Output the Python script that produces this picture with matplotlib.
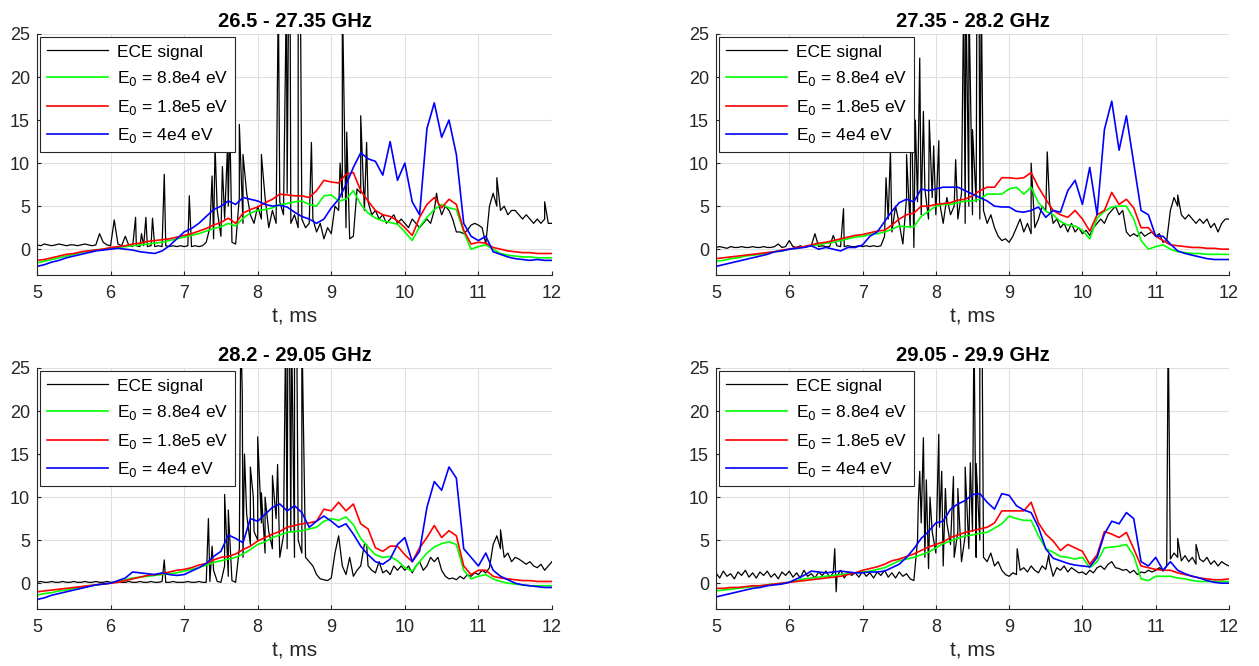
import numpy as np
import matplotlib.pyplot as plt

plt.rcParams['font.family'] = ['Liberation Sans', 'DejaVu Sans']

titles = ['26.5 - 27.35 GHz', '27.35 - 28.2 GHz', '28.2 - 29.05 GHz', '29.05 - 29.9 GHz']
labels = ['ECE signal', 'E$_0$ = 8.8e4 eV', 'E$_0$ = 1.8e5 eV', 'E$_0$ = 4e4 eV']

# time grids, ms
t_model = np.round(np.arange(5.0, 12.001, 0.1), 2)
t_ece = np.round(np.arange(5.0, 12.001, 0.05), 3)

# ---------- 26.5 - 27.35 GHz ----------
p1_green = [-1.6, -1.4, -1.2, -1.0, -0.8, -0.6, -0.4, -0.2, -0.1, 0.0,
            0.1, 0.2, 0.3, 0.4, 0.5, 0.6, 0.7, 0.8, 1.0, 1.2,
            1.4, 1.6, 1.8, 2.1, 2.4, 2.6, 3.0, 2.7, 3.6, 4.2,
            4.5, 4.6, 4.8, 5.2, 5.3, 5.5, 5.6, 5.2, 5.0, 6.2,
            6.3, 5.6, 5.8, 6.8, 5.2, 4.2, 3.6, 3.3, 3.1, 2.9,
            2.0, 1.0, 2.6, 3.7, 4.6, 5.2, 4.8, 4.6, 2.0, 0.0,
            0.3, 0.5, 0.0, -0.5, -0.7, -0.8, -0.9, -0.9, -1.0, -1.0,
            -1.0]
p1_red = [-1.3, -1.2, -1.0, -0.8, -0.6, -0.5, -0.3, -0.2, -0.1, 0.0,
          0.2, 0.3, 0.4, 0.6, 0.7, 0.9, 1.0, 1.1, 1.2, 1.4,
          1.6, 1.8, 2.1, 2.4, 2.8, 3.1, 3.6, 3.0, 4.2, 4.6,
          4.9, 5.4, 5.8, 6.4, 6.3, 6.2, 6.2, 6.0, 6.8, 8.0,
          7.8, 7.7, 8.7, 8.9, 6.8, 5.6, 4.5, 4.0, 3.8, 3.3,
          2.5, 1.6, 3.7, 5.2, 6.0, 4.8, 5.8, 5.2, 2.2, 0.6,
          0.8, 0.7, 0.2, 0.0, -0.2, -0.3, -0.4, -0.4, -0.5, -0.5,
          -0.5]
p1_blue = [-2.0, -1.8, -1.5, -1.3, -1.0, -0.8, -0.6, -0.4, -0.2, -0.1,
           0.0, 0.1, 0.0, -0.1, -0.3, -0.4, -0.5, -0.2, 0.4, 1.2,
           2.0, 2.4, 3.0, 3.8, 4.6, 5.0, 5.6, 5.2, 6.0, 5.8,
           5.6, 5.2, 5.0, 5.1, 4.9, 4.3, 3.8, 3.5, 3.0, 3.5,
           4.8, 5.8, 7.5, 9.5, 11.2, 10.5, 10.2, 8.6, 12.5, 8.0,
           10.0, 5.5, 4.0, 14.0, 17.0, 13.0, 15.0, 11.0, 3.0, 1.5,
           1.0, 1.5, -0.3, -0.6, -0.9, -1.1, -1.2, -1.3, -1.2, -1.3,
           -1.3]
p1_ece = [0.5, 0.4, 0.6, 0.5, 0.4, 0.5, 0.6, 0.5, 0.4, 0.5, 0.5, 0.4, 0.5, 0.6, 0.5, 0.4, 0.5, 1.8, 0.8, 0.5,
          0.4, 3.4, 0.6, 0.4, 1.5, 0.4, 0.3, 0.4, 0.3, 0.4, 0.3, 0.4, 0.3, 0.4, 0.3, 0.4, 0.3, 0.4, 0.3, 0.4,
          0.3, 0.4, 0.3, 0.4, 0.3, 0.4, 0.8, 2.5, 1.2, 4.5, 1.5, 3.5, 5.0, 0.8, 0.6, 6.0, 3.0, 6.5, 4.0, 3.0,
          5.0, 3.5, 6.0, 2.5, 4.5, 3.0, 5.5, 4.0, 6.5, 3.0, 4.0, 2.5, 3.5, 2.5, 3.0, 3.5, 2.0, 3.0, 1.2, 2.5,
          1.8, 5.0, 4.5, 6.0, 2.5, 1.2, 1.5, 7.0, 6.5, 4.5, 5.5, 4.0, 4.5, 3.5, 4.0, 3.0, 3.5, 4.0, 3.0, 3.5,
          3.0, 2.5, 3.5, 3.0, 2.5, 3.0, 3.5, 3.0, 4.5, 5.5, 4.0, 5.0, 4.5, 3.5, 2.0, 2.0, 1.8, 2.2, 2.8, 3.0,
          2.8, 2.5, 0.6, 5.0, 6.5, 5.0, 4.5, 5.0, 4.0, 4.5, 4.5, 4.0, 3.5, 4.0, 3.5, 3.0, 3.5, 3.0, 3.5, 3.0,
          3.0]
p1_spike_t = [6.34, 6.42, 6.48, 6.57, 6.73, 7.07, 7.38, 7.42, 7.52, 7.59, 7.62, 7.75, 7.8, 8.05,
              8.28, 8.39, 8.42, 8.44, 8.55, 8.58, 8.73, 9.12, 9.15, 9.21, 9.4, 9.48, 10.43, 11.25, 11.9]
p1_spike_v = [3.7, 1.8, 3.7, 3.6, 8.7, 6.2, 8.5, 12.0, 9.6, 12.0, 15.0, 14.5, 11.0, 11.0,
              30, 30, 30, 30, 30, 30, 12.4, 10.0, 30, 13.6, 15.5, 12.4, 6.5, 8.3, 5.5]

# ---------- 27.35 - 28.2 GHz ----------
p2_green = [-1.4, -1.3, -1.1, -1.0, -0.8, -0.7, -0.6, -0.4, -0.3, -0.2,
            0.0, 0.1, 0.3, 0.4, 0.5, 0.7, 0.8, 1.0, 1.2, 1.4,
            1.5, 1.7, 1.8, 2.0, 2.3, 2.7, 2.6, 2.6, 3.8, 4.4,
            5.0, 5.2, 5.2, 5.4, 5.6, 5.6, 5.8, 6.4, 6.4, 6.4,
            7.0, 7.2, 6.4, 7.2, 5.4, 4.4, 4.0, 3.2, 2.8, 2.7,
            2.2, 1.2, 3.6, 4.4, 4.9, 5.0, 5.0, 3.5, 1.0, 0.0,
            0.3, 0.5, 0.0, -0.3, -0.4, -0.5, -0.5, -0.6, -0.6, -0.6,
            -0.6]
p2_red = [-1.1, -1.0, -0.9, -0.8, -0.7, -0.6, -0.5, -0.4, -0.3, -0.1,
          0.0, 0.2, 0.3, 0.5, 0.7, 0.8, 1.0, 1.2, 1.4, 1.6,
          1.7, 1.9, 2.1, 2.2, 2.8, 3.5, 4.0, 4.2, 5.0, 5.0,
          5.2, 5.3, 5.4, 5.7, 5.8, 6.2, 6.8, 7.2, 7.2, 8.3,
          8.3, 8.2, 8.3, 8.9, 7.2, 5.8, 4.5, 4.0, 3.7, 4.5,
          3.5, 2.1, 4.0, 4.5, 6.6, 5.2, 5.8, 4.8, 2.5, 2.5,
          1.5, 1.0, 0.5, 0.4, 0.3, 0.2, 0.2, 0.1, 0.1, 0.0,
          0.0]
p2_blue = [-2.0, -1.8, -1.6, -1.4, -1.2, -1.0, -0.8, -0.6, -0.3, -0.2,
           0.0, 0.1, 0.2, 0.4, 0.0, 0.2, 0.0, -0.2, 0.2, 0.2,
           0.5, 1.5, 2.0, 3.2, 4.4, 5.4, 5.8, 5.5, 7.0, 6.8,
           7.0, 7.2, 7.2, 7.2, 6.8, 6.4, 6.0, 5.6, 5.0, 4.9,
           4.9, 4.4, 4.3, 4.5, 4.9, 3.7, 4.5, 4.3, 6.8, 8.0,
           5.2, 9.5, 4.0, 13.9, 17.2, 11.5, 15.5, 10.0, 4.5, 4.0,
           1.5, 1.5, 0.6, -0.2, -0.5, -0.7, -0.9, -1.1, -1.2, -1.2,
           -1.2]
p2_ece = [0.2, 0.3, 0.2, 0.1, 0.3, 0.2, 0.2, 0.3, 0.2, 0.2, 0.3, 0.2, 0.2, 0.3, 0.2, 0.2, 0.3, 0.6, 0.2, 0.3,
          1.0, 0.3, 0.2, 0.4, 0.2, 0.3, 0.4, 1.8, 0.3, 0.4, 0.3, 0.3, 1.6, 0.4, 0.3, 0.3, 0.4, 0.3, 0.3, 0.4,
          0.3, 0.4, 0.3, 0.4, 0.3, 0.4, 1.5, 3.5, 2.0, 5.0, 3.0, 0.6, 6.0, 2.5, 0.2, 5.5, 4.0, 7.0, 3.5, 6.0,
          4.0, 5.5, 3.0, 6.0, 4.0, 5.0, 3.5, 6.5, 3.0, 5.0, 4.0, 5.5, 3.5, 4.5, 3.0, 4.0, 2.5, 1.5, 1.0, 1.2,
          0.8, 1.5, 2.5, 3.5, 2.0, 3.0, 1.8, 2.5, 3.5, 5.0, 4.5, 5.5, 3.0, 3.5, 2.5, 3.0, 2.0, 3.0, 2.0, 2.5,
          1.8, 2.2, 1.6, 2.5, 3.0, 3.5, 3.0, 4.0, 4.5, 5.0, 4.0, 4.5, 2.0, 1.5, 1.8, 1.5, 2.0, 1.5, 1.8, 2.0,
          1.5, 1.8, 0.8, 1.0, 4.5, 6.0, 5.0, 4.0, 3.5, 4.0, 3.5, 3.0, 3.5, 3.0, 3.5, 2.5, 3.0, 2.0, 3.0, 3.5,
          3.5]
p2_spike_t = [6.74, 7.32, 7.38, 7.6, 7.66, 7.72, 7.78, 7.83, 7.91, 7.97, 8.04, 8.27,
              8.38, 8.41, 8.45, 8.5, 8.56, 8.59, 8.62, 9.3, 9.52, 11.3]
p2_spike_v = [4.7, 8.3, 11.5, 11.0, 21.0, 15.0, 22.2, 16.0, 15.0, 12.0, 12.6, 10.4,
              30, 30, 30, 13.9, 30, 30, 30, 10.0, 11.3, 6.3]

# ---------- 28.2 - 29.05 GHz ----------
p3_green = [-1.4, -1.2, -1.1, -0.9, -0.8, -0.6, -0.5, -0.3, -0.2, -0.1,
            0.0, 0.2, 0.4, 0.6, 0.7, 0.8, 0.9, 1.0, 1.1, 1.2,
            1.4, 1.6, 1.8, 2.1, 2.4, 2.6, 2.8, 3.0, 3.4, 3.9,
            4.5, 4.8, 5.3, 5.6, 5.9, 6.0, 6.1, 6.3, 6.5, 7.2,
            7.5, 7.3, 7.7, 6.8, 5.2, 4.2, 3.3, 3.0, 3.1, 2.6,
            1.8, 1.4, 2.5, 3.5, 4.2, 4.6, 4.8, 4.5, 1.5, 0.5,
            0.8, 1.0, 0.5, 0.2, 0.0, -0.1, -0.2, -0.3, -0.3, -0.3,
            -0.3]
p3_red = [-1.0, -0.9, -0.8, -0.7, -0.6, -0.5, -0.4, -0.3, -0.2, -0.1,
          0.0, 0.1, 0.3, 0.5, 0.7, 0.9, 1.0, 1.1, 1.3, 1.5,
          1.6, 1.8, 2.1, 2.3, 2.7, 3.0, 3.1, 3.4, 3.9, 4.3,
          4.9, 5.3, 5.7, 6.0, 6.5, 6.7, 6.9, 7.0, 7.2, 8.6,
          8.4, 9.4, 8.4, 9.2, 6.9, 6.3, 4.1, 3.7, 4.3, 4.3,
          3.3, 2.5, 4.1, 5.3, 6.7, 5.3, 6.1, 5.5, 2.0, 1.0,
          1.5, 1.5, 0.8, 0.6, 0.5, 0.4, 0.3, 0.3, 0.2, 0.2,
          0.2]
p3_blue = [-1.9, -1.7, -1.4, -1.2, -1.0, -0.8, -0.6, -0.4, -0.2, -0.1,
           0.0, 0.3, 0.6, 1.3, 1.2, 1.1, 1.0, 1.2, 1.0, 0.9,
           1.0, 1.4, 1.8, 2.3, 3.1, 3.7, 5.6, 5.2, 4.7, 7.5,
           7.2, 8.0, 8.8, 9.2, 8.4, 9.0, 8.2, 6.5, 7.2, 7.8,
           7.2, 6.5, 6.9, 5.7, 4.3, 3.3, 2.5, 2.2, 2.8, 4.5,
           5.3, 2.5, 3.7, 8.8, 11.8, 10.8, 13.5, 12.2, 4.0, 3.0,
           2.0, 3.5, 1.5, 0.8, 0.4, 0.0, -0.2, -0.3, -0.4, -0.5,
           -0.5]
p3_ece = [0.1, 0.2, 0.1, 0.1, 0.2, 0.1, 0.1, 0.2, 0.1, 0.1, 0.2, 0.1, 0.1, 0.2, 0.1, 0.1, 0.2, 0.1, 0.1, 0.2,
          0.1, 0.1, 0.2, 0.1, 0.1, 0.2, 0.1, 0.1, 0.2, 0.1, 0.1, 0.2, 0.1, 0.1, 0.2, 0.1, 0.1, 0.2, 0.1, 0.1,
          0.1, 0.2, 0.1, 0.1, 0.2, 0.1, 0.1, 0.2, 1.5, 0.2, 0.1, 2.0, 0.8, 0.3, 0.1, 4.0, 3.0, 8.0, 4.5, 6.0,
          5.0, 7.0, 3.5, 6.0, 4.0, 7.5, 3.0, 5.5, 4.0, 6.0, 3.0, 5.0, 3.5, 3.0, 2.5, 2.0, 1.0, 0.5, 0.4, 0.3,
          0.6, 3.5, 5.5, 2.0, 1.0, 3.0, 0.8, 1.5, 2.0, 4.5, 2.0, 1.5, 1.2, 2.5, 1.2, 1.5, 1.0, 2.0, 1.5, 2.0,
          1.5, 2.0, 1.2, 2.0, 2.5, 1.5, 2.0, 3.0, 2.5, 3.0, 1.5, 0.8, 0.5, 0.6, 0.4, 0.8, 0.5, 1.0, 0.8, 1.2,
          1.0, 1.5, 1.2, 1.8, 4.5, 5.5, 4.0, 3.0, 3.5, 2.5, 3.0, 2.8, 2.5, 2.2, 2.5, 2.0, 1.8, 2.2, 1.5, 2.0,
          2.5]
p3_spike_t = [6.73, 7.33, 7.38, 7.55, 7.6, 7.77, 7.79, 7.82, 7.9, 7.94, 8.0, 8.05, 8.1, 8.2, 8.27,
              8.38, 8.41, 8.43, 8.46, 8.5, 8.53, 8.6, 9.48, 11.3]
p3_spike_v = [2.7, 7.5, 4.3, 10.3, 8.5, 30, 22.0, 15.0, 13.5, 10.0, 17.0, 10.5, 10.0, 12.5, 13.8,
              30, 30, 30, 30, 30, 30, 30, 4.5, 6.2]

# ---------- 29.05 - 29.9 GHz ----------
p4_green = [-0.9, -0.8, -0.7, -0.6, -0.5, -0.4, -0.3, -0.2, -0.1, 0.0,
            0.1, 0.3, 0.5, 0.6, 0.7, 0.8, 0.9, 1.0, 1.1, 1.2,
            1.3, 1.4, 1.6, 1.8, 2.2, 2.6, 2.8, 3.0, 3.3, 3.6,
            4.1, 4.6, 4.9, 5.2, 5.5, 5.6, 5.8, 5.9, 6.4, 6.9,
            7.8, 7.5, 7.3, 7.3, 5.5, 4.0, 3.6, 3.1, 3.0, 2.8,
            3.0, 1.8, 2.5, 4.1, 4.2, 4.3, 4.5, 3.2, 0.5, 0.3,
            0.8, 0.8, 0.8, 0.6, 0.5, 0.3, 0.2, 0.2, 0.2, 0.2,
            0.2]
p4_red = [-0.6, -0.6, -0.5, -0.5, -0.4, -0.3, -0.3, -0.2, -0.1, 0.0,
          0.1, 0.2, 0.3, 0.4, 0.5, 0.6, 0.7, 0.8, 1.0, 1.2,
          1.5, 1.7, 1.9, 2.2, 2.6, 2.8, 3.1, 3.4, 3.8, 4.2,
          4.5, 4.8, 5.3, 5.6, 5.9, 6.1, 6.3, 6.5, 7.0, 8.4,
          8.4, 8.4, 8.4, 9.4, 7.0, 5.7, 4.9, 3.8, 4.5, 4.1,
          3.7, 2.2, 3.3, 6.0, 5.7, 5.3, 5.9, 4.0, 2.0, 1.8,
          1.6, 1.5, 1.5, 1.2, 1.0, 0.8, 0.6, 0.5, 0.4, 0.4,
          0.5]
p4_blue = [-1.6, -1.4, -1.2, -1.0, -0.8, -0.6, -0.5, -0.3, -0.2, -0.1,
           0.1, 0.5, 0.9, 1.4, 1.3, 1.2, 1.3, 1.4, 1.3, 1.2,
           1.2, 1.3, 1.3, 1.4, 1.8, 2.2, 3.0, 4.0, 5.2, 6.0,
           7.0, 7.2, 8.6, 9.2, 9.6, 10.3, 10.4, 9.4, 8.6, 10.4,
           10.2, 9.0, 8.5, 8.2, 6.5, 4.0, 2.9, 2.6, 2.3, 2.1,
           2.0, 1.9, 3.0, 5.7, 7.2, 6.9, 8.2, 7.5, 2.5, 2.0,
           3.0, 1.5, 2.5, 1.5, 1.1, 0.8, 0.6, 0.3, 0.1, 0.0,
           0.0]
p4_ece = [1.2, 0.6, 1.4, 0.8, 1.1, 0.5, 1.3, 0.9, 1.5, 0.7, 1.2, 0.6, 1.3, 0.9, 1.4, 0.7, 1.1, 0.5, 1.3, 0.9,
          1.4, 0.7, 1.2, 0.6, 1.5, 0.8, 1.1, 0.6, 1.3, 0.9, 1.4, 0.7, 1.2, 0.8, 1.5, 0.6, 1.3, 0.9, 1.2, 0.7,
          1.4, 0.8, 1.2, 0.6, 1.3, 0.9, 1.5, 0.7, 1.2, 0.6, 1.3, 0.8, 1.1, 0.5, 0.3, 5.0, 7.0, 3.0, 1.7, 6.0,
          3.5, 6.5, 2.0, 7.0, 4.5, 3.0, 6.0, 2.5, 5.5, 4.0, 6.0, 3.0, 5.0, 3.0, 2.5, 3.5, 2.0, 2.5, 1.5, 1.0,
          0.8, 1.2, 1.0, 1.5, 1.8, 1.3, 2.0, 1.5, 1.2, 2.0, 1.6, 2.5, 0.8, 1.8, 1.5, 2.0, 1.3, 1.8, 1.5, 1.2,
          1.3, 1.0, 1.5, 1.2, 1.8, 2.0, 1.6, 2.2, 2.5, 1.8, 1.7, 1.5, 1.6, 1.2, 1.5, 1.0, 1.3, 1.2, 1.5, 1.3,
          1.5, 1.8, 1.4, 2.0, 2.8, 3.5, 3.0, 2.6, 3.2, 2.5, 3.0, 2.2, 2.8, 2.5, 3.0, 2.2, 2.6, 2.0, 2.5, 2.2,
          2.0]
p4_spike_t = [6.62, 6.64, 7.76, 7.78, 7.83, 7.87, 7.92, 8.04, 8.08, 8.13, 8.24, 8.3, 8.4, 8.47,
              8.52, 8.55, 8.6, 8.63, 9.11, 9.54, 11.17, 11.3, 11.55]
p4_spike_v = [4.0, -1.0, 9.2, 13.0, 16.9, 12.0, 10.0, 17.3, 13.0, 11.0, 12.4, 11.0, 13.5, 14.0,
              30, 13.9, 30, 30, 4.0, 3.3, 30, 5.2, 4.5]

panels = [
    (p1_ece, p1_spike_t, p1_spike_v, p1_green, p1_red, p1_blue),
    (p2_ece, p2_spike_t, p2_spike_v, p2_green, p2_red, p2_blue),
    (p3_ece, p3_spike_t, p3_spike_v, p3_green, p3_red, p3_blue),
    (p4_ece, p4_spike_t, p4_spike_v, p4_green, p4_red, p4_blue),
]

positions = [
    [37 / 1259, 1 - 275 / 666, 515 / 1259, 241 / 666],
    [716 / 1259, 1 - 275 / 666, 513 / 1259, 241 / 666],
    [37 / 1259, 1 - 609 / 666, 515 / 1259, 241 / 666],
    [716 / 1259, 1 - 609 / 666, 513 / 1259, 241 / 666],
]

fig = plt.figure(figsize=(12.59, 6.66), dpi=100)
txt = '#262626'

for i, (ece, st, sv, g, r, b) in enumerate(panels):
    ax = fig.add_axes(positions[i])
    # merge spikes into the ECE trace
    te = np.concatenate([t_ece, st])
    ve = np.concatenate([ece, sv])
    order = np.argsort(te, kind='stable')
    ax.plot(te[order], ve[order], color='black', lw=0.9, label=labels[0])
    ax.plot(t_model, g, color='#00ff00', lw=1.2, label=labels[1])
    ax.plot(t_model, r, color='#ff0000', lw=1.2, label=labels[2])
    ax.plot(t_model, b, color='#0000ff', lw=1.2, label=labels[3])

    ax.set_xlim(5, 12)
    ax.set_ylim(-3, 25)
    ax.set_xticks(range(5, 13))
    ax.set_yticks(range(0, 26, 5))
    ax.grid(True, color='#e0e0e0', lw=0.8)
    ax.set_axisbelow(True)
    for s in ['top', 'right']:
        ax.spines[s].set_visible(False)
    for s in ['left', 'bottom']:
        ax.spines[s].set_color(txt)
        ax.spines[s].set_linewidth(0.8)
    ax.tick_params(direction='in', length=3, labelsize=13, colors=txt)
    ax.tick_params(axis='x', pad=7)
    ax.tick_params(axis='y', pad=5)
    ax.set_xlabel('t, ms', fontsize=15, color=txt, labelpad=4)
    ax.set_title(titles[i], fontsize=14.5, fontweight='bold', color='black', pad=5)
    leg = ax.legend(loc='upper left', fontsize=12.5, handlelength=3.5, borderaxespad=0.2,
                    fancybox=False, framealpha=1, edgecolor=txt, labelspacing=0.55,
                    borderpad=0.4, handletextpad=0.5)
    leg.get_frame().set_linewidth(0.8)

fig.savefig('out.png', dpi=100)
